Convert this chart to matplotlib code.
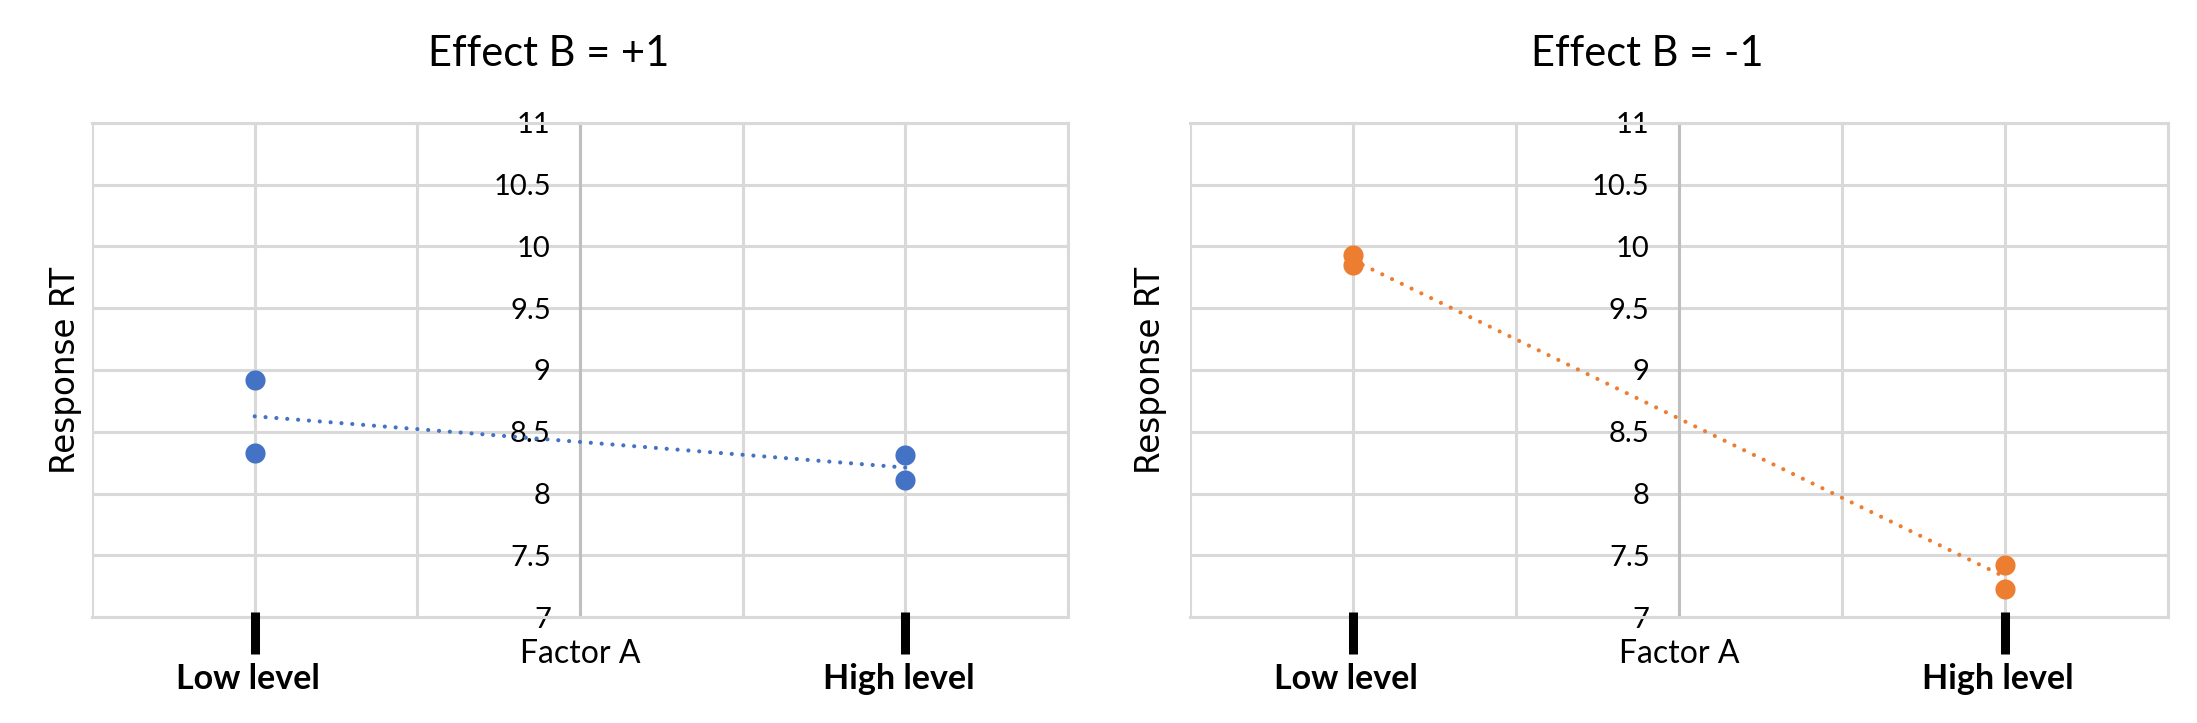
import numpy as np
import matplotlib
matplotlib.use("Agg")
import matplotlib.pyplot as plt
from matplotlib.transforms import blended_transform_factory


# factor A coded -1 (low) / +1 (high)
factor_a = [-1, -1, 1, 1]
levels = [-1, 1]
level_labels = ["Low level", "High level"]

rt_b_plus = [8.92, 8.33, 8.31, 8.11]
rt_b_minus = [9.93, 9.85, 7.42, 7.23]

panel_titles = ["Effect B = +1", "Effect B = -1"]
panel_colors = ["#4472C4", "#ED7D31"]

y_ticks = [7, 7.5, 8, 8.5, 9, 9.5, 10, 10.5, 11]
y_tick_labels = ["7", "7.5", "8", "8.5", "9", "9.5", "10", "10.5", "11"]
x_grid = [-1.5, -1, -0.5, 0, 0.5, 1, 1.5]

font = ["Lato", "DejaVu Sans"]
plt.rcParams["font.family"] = font

fig = plt.figure(figsize=(21.97, 7.23), dpi=100)

axes = [
    fig.add_axes([0.0419, 0.1466, 0.4442, 0.6833]),
    fig.add_axes([0.5416, 0.1466, 0.4451, 0.6833]),
]

grid_col = "#D9D9D9"

for ax, rt, title, color in zip(axes, [rt_b_plus, rt_b_minus],
                                panel_titles, panel_colors):
    # vertical axis crosses in the middle (Excel style)
    ax.spines["left"].set_position(("data", 0))
    ax.spines["left"].set_color("#BFBFBF")
    ax.spines["left"].set_linewidth(2.2)
    ax.spines["left"].set_zorder(1)
    for side in ["top", "bottom", "right"]:
        ax.spines[side].set_color(grid_col)
        ax.spines[side].set_linewidth(2.2)

    ax.set_xlim(-1.5, 1.5)
    ax.set_ylim(7, 11)

    ax.set_xticks(x_grid)
    ax.set_xticklabels([])
    ax.set_yticks(y_ticks)
    ax.set_yticklabels(y_tick_labels)
    ax.tick_params(length=0)
    ax.tick_params(axis="y", pad=21, labelsize=21)
    ax.grid(True, color=grid_col, linewidth=2.2, zorder=0)
    ax.set_axisbelow(True)

    # linear trend line
    slope, intercept = np.polyfit(factor_a, rt, 1)
    trend_x = np.array(levels)
    ax.plot(trend_x, slope * trend_x + intercept, color=color,
            linewidth=3.0, linestyle=(0, (0.01, 2.6)),
            dash_capstyle="round", zorder=3)

    ax.plot(factor_a, rt, "o", color=color, markersize=14.5,
            markeredgewidth=0, zorder=4)

    trans = blended_transform_factory(ax.transData, ax.transAxes)
    for lv, lab in zip(levels, level_labels):
        ax.plot([lv, lv], [0.01, -0.075], color="black", linewidth=6.5,
                solid_capstyle="butt", transform=trans, clip_on=False,
                zorder=5)
        ax.text(lv - 0.02, -0.125, lab, transform=trans, ha="center",
                va="center", fontsize=24.5, fontweight="bold")

    ax.text(0, -0.075, "Factor A", transform=trans, ha="center",
            va="center", fontsize=23)

    ax.text(-0.027 if ax is axes[0] else -0.04, 0.5, "Response RT",
            transform=ax.transAxes, rotation=90, ha="center", va="center",
            fontsize=23.5, family="DejaVu Sans")

    ax.text(0.468, 1.14, title, transform=ax.transAxes, ha="center",
            va="center", fontsize=30)

fig.savefig("out.png", dpi=100, facecolor="white")
